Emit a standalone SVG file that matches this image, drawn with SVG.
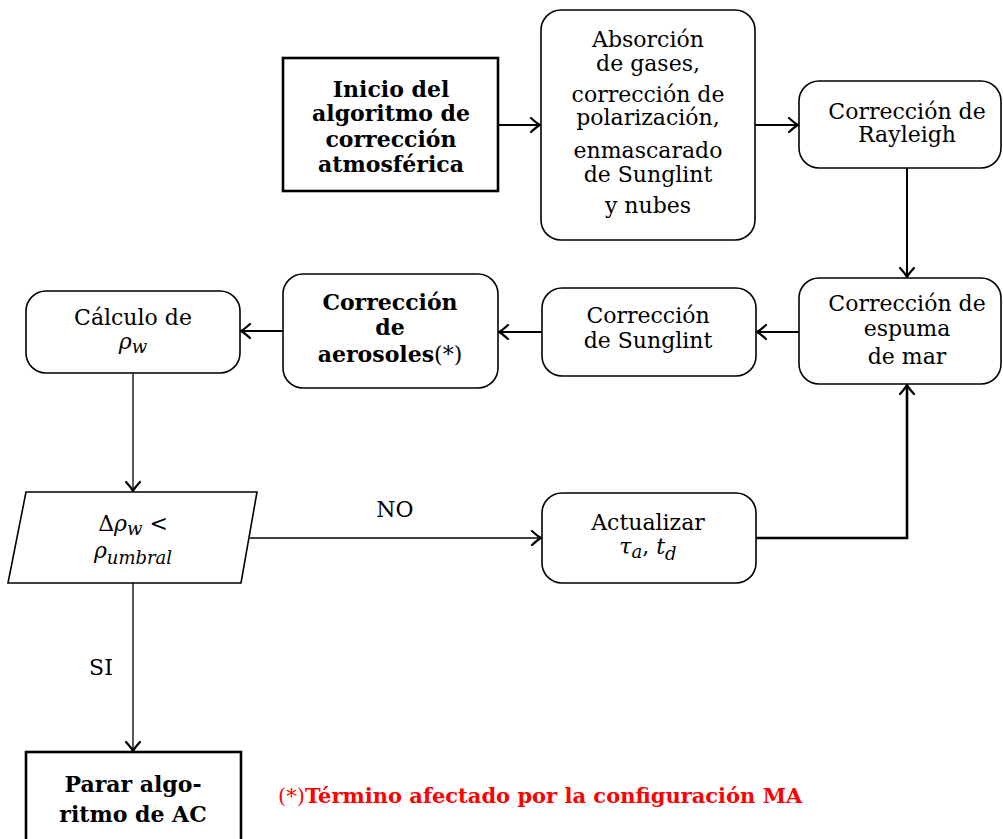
<svg xmlns="http://www.w3.org/2000/svg" width="1003" height="839" viewBox="0 0 1003 839">
<style>
  text { font-family: "DejaVu Serif", "Liberation Serif", serif; font-size: 22px; fill: #000; text-anchor: middle; }
  .b { font-weight: bold; }
  .m { font-style: italic; }
  .sub { font-size: 18px; font-style: italic; }
  .rbox { fill: #fff; stroke: #000; stroke-width: 1.6; }
  .sbox { fill: #fff; stroke: #000; stroke-width: 2.6; }
  .c { fill: none; stroke: #000; stroke-width: 2; }
  .thin { fill: none; stroke: #000; stroke-width: 1.3; }
  .thick { fill: none; stroke: #000; stroke-width: 2.6; }
  .red { fill: #ff0000; text-anchor: start; font-size: 21px; }
</style>
<defs>
  <marker id="arr" viewBox="-11 -8 13 16" refX="0" refY="0" markerWidth="13" markerHeight="16" orient="auto" markerUnits="userSpaceOnUse">
    <path d="M-9,-7 Q-3,-1.5 0,0 Q-3,1.5 -9,7" fill="none" stroke="#000" stroke-width="2.2" stroke-linecap="round"/>
  </marker>
</defs>
<rect width="1003" height="839" fill="#fff"/>

<g id="connectors">
  <line class="c" x1="498" y1="125" x2="540" y2="125" marker-end="url(#arr)"/>
  <line class="c" x1="755" y1="125" x2="798" y2="125" marker-end="url(#arr)"/>
  <line class="c" x1="907" y1="168" x2="907" y2="277" marker-end="url(#arr)"/>
  <line class="c" x1="799" y1="332" x2="757" y2="332" marker-end="url(#arr)"/>
  <line class="c" x1="542" y1="332" x2="499" y2="332" marker-end="url(#arr)"/>
  <line class="c" x1="283" y1="331" x2="241" y2="331" marker-end="url(#arr)"/>
  <line class="thin" x1="133" y1="373" x2="133" y2="491" marker-end="url(#arr)"/>
  <line class="thin" x1="250" y1="538" x2="541" y2="538" marker-end="url(#arr)"/>
  <polyline class="thick" points="756,538 907,538 907,385" marker-end="url(#arr)"/>
  <line class="thin" x1="133" y1="583" x2="133" y2="751" marker-end="url(#arr)"/>
  <text x="395" y="517">NO</text>
  <text x="101" y="675">SI</text>
</g>

<g id="inicio">
  <rect class="sbox" x="283" y="58" width="215" height="133"/>
  <text class="b" x="391" y="97">Inicio del</text>
  <text class="b" x="391" y="121">algoritmo de</text>
  <text class="b" x="391" y="147">corrección</text>
  <text class="b" x="391" y="172">atmosférica</text>
</g>

<g id="absorcion">
  <rect class="rbox" x="541" y="10" width="214" height="230" rx="20"/>
  <text x="648" y="47">Absorción</text>
  <text x="648" y="71">de gases,</text>
  <text x="648" y="102">corrección de</text>
  <text x="648" y="125">polarización,</text>
  <text x="648" y="158">enmascarado</text>
  <text x="648" y="182">de Sunglint</text>
  <text x="648" y="213">y nubes</text>
</g>

<g id="rayleigh">
  <rect class="rbox" x="799" y="81" width="202" height="87" rx="20"/>
  <text x="907" y="119">Corrección de</text>
  <text x="907" y="142">Rayleigh</text>
</g>

<g id="espuma">
  <rect class="rbox" x="799" y="278" width="202" height="106" rx="20"/>
  <text x="907" y="311">Corrección de</text>
  <text x="907" y="336">espuma</text>
  <text x="907" y="364">de mar</text>
</g>

<g id="sunglint">
  <rect class="rbox" x="542" y="288" width="214" height="88" rx="20"/>
  <text x="648" y="323">Corrección</text>
  <text x="648" y="348">de Sunglint</text>
</g>

<g id="aerosoles">
  <rect class="rbox" x="283" y="274" width="215" height="114" rx="20"/>
  <text class="b" x="390" y="310">Corrección</text>
  <text class="b" x="390" y="335">de</text>
  <text x="390" y="362"><tspan class="b">aerosoles</tspan>(*)</text>
</g>

<g id="calculo">
  <rect class="rbox" x="26" y="291" width="214" height="82" rx="20"/>
  <text x="133" y="325">Cálculo de</text>
  <text x="133" y="349"><tspan class="m">ρ</tspan><tspan class="sub" dy="4">w</tspan></text>
</g>

<g id="decision">
  <polygon class="rbox" points="26,492 257,492 241,583 8,583"/>
  <text x="133" y="531">Δ<tspan class="m">ρ</tspan><tspan class="sub" dy="4">w</tspan><tspan dy="-4">  &lt;</tspan></text>
  <text x="133" y="558"><tspan class="m">ρ</tspan><tspan class="sub" dy="6">umbral</tspan></text>
</g>

<g id="actualizar">
  <rect class="rbox" x="542" y="493" width="214" height="90" rx="20"/>
  <text x="648" y="530">Actualizar</text>
  <text x="648" y="554"><tspan class="m">τ</tspan><tspan class="sub" dy="4">a</tspan><tspan dy="-4">, </tspan><tspan class="m">t</tspan><tspan class="sub" dy="6">d</tspan></text>
</g>

<g id="parar">
  <rect class="sbox" x="26" y="752" width="215" height="100"/>
  <text class="b" x="133" y="792">Parar algo-</text>
  <text class="b" x="133" y="822">ritmo de AC</text>
</g>

<g id="nota">
  <text class="red" x="278" y="803">(*)<tspan class="b">Término afectado por la configuración MA</tspan></text>
</g>
</svg>
